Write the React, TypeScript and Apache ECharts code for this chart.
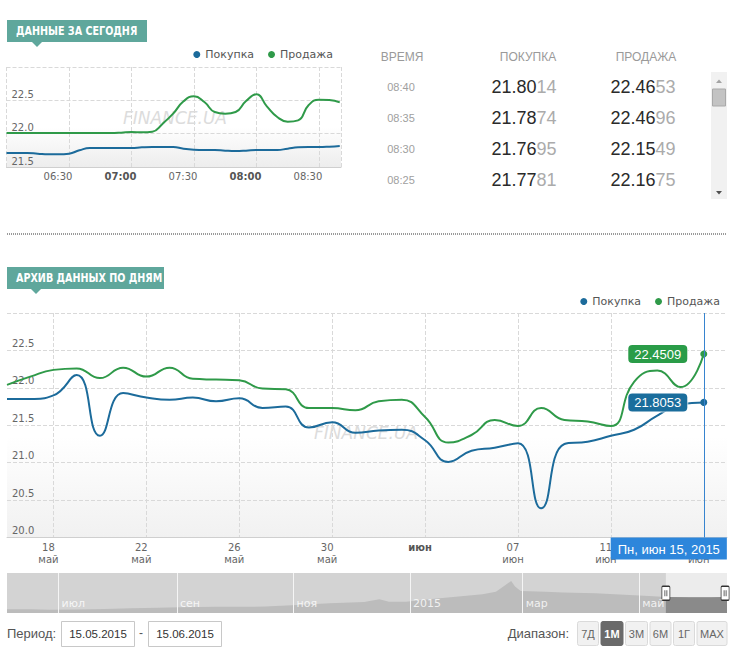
import React, { useEffect, useRef } from 'react';
import * as echarts from 'echarts';

// ---------- data: today (5-minute steps) ----------
const todayTimes = ['06:00','06:05','06:10','06:15','06:20','06:25','06:30','06:35','06:40','06:45','06:50','06:55',
  '07:00','07:05','07:10','07:15','07:20','07:25','07:30','07:35','07:40','07:45','07:50','07:55',
  '08:00','08:05','08:10','08:15','08:20','08:25','08:30','08:35','08:40'];
const todayBuy = [21.71,21.71,21.71,21.70,21.69,21.69,21.70,21.75,21.785,21.785,21.785,21.785,
  21.785,21.795,21.80,21.80,21.80,21.775,21.76,21.755,21.755,21.745,21.74,21.745,
  21.755,21.755,21.755,21.775,21.795,21.80,21.80,21.805,21.815];
const todaySell = [22.01,22.01,22.01,22.01,22.01,22.01,22.01,22.01,22.01,22.01,22.01,22.015,
  22.025,22.02,22.03,22.15,22.30,22.485,22.56,22.475,22.325,22.30,22.325,22.49,
  22.59,22.41,22.25,22.18,22.20,22.425,22.51,22.505,22.47];
const todayAxisMax = '08:40.6';

// ---------- data: table ----------
const tableHeaders = ['ВРЕМЯ', 'ПОКУПКА', 'ПРОДАЖА'];
const tableTimes = ['08:40', '08:35', '08:30', '08:25'];
const tableBuy = ['21.8014', '21.7874', '21.7695', '21.7781'];
const tableSell = ['22.4653', '22.4696', '22.1549', '22.1675'];

// ---------- data: daily archive ----------
const dailyDates = ['2015-05-16','2015-05-17','2015-05-18','2015-05-19','2015-05-20','2015-05-21','2015-05-22','2015-05-23',
  '2015-05-24','2015-05-25','2015-05-26','2015-05-27','2015-05-28','2015-05-29','2015-05-30','2015-05-31',
  '2015-06-01','2015-06-02','2015-06-03','2015-06-04','2015-06-05','2015-06-06','2015-06-07','2015-06-08',
  '2015-06-09','2015-06-10','2015-06-11','2015-06-12','2015-06-13','2015-06-14','2015-06-15','2015-06-16'];
const dailyBuy = [21.85,21.85,21.90,22.17,21.36,21.93,21.87,21.84,21.87,21.82,21.86,21.73,21.75,21.47,21.54,21.40,
  21.43,21.44,21.30,21.01,21.16,21.20,21.26,20.39,21.25,21.28,21.36,21.44,21.63,21.78,21.8053,null];
const dailySell = [22.04,22.15,22.24,22.26,22.13,22.27,22.15,22.27,22.12,22.11,22.10,21.99,21.98,21.73,21.73,21.70,
  21.82,21.84,21.61,21.27,21.37,21.57,21.49,21.73,21.57,21.55,21.49,22.08,22.23,22.01,22.4509,null];
const dailyTickLabels: Record<string, string> = {
  '2015-05-18': '18\nмай', '2015-05-22': '22\nмай', '2015-05-26': '26\nмай', '2015-05-30': '30\nмай',
  '2015-06-03': 'июн', '2015-06-07': '07\nиюн', '2015-06-11': '11\nиюн', '2015-06-15': '15\nиюн',
};
const crosshairDate = '2015-06-15';
const crosshairLabel = 'Пн, июн 15, 2015';

// ---------- data: navigator ----------
const navDates = ['2014-06-04','2014-06-17','2014-06-26','2014-07-10','2014-07-25','2014-08-08','2014-08-22','2014-09-03',
  '2014-09-21','2014-10-05','2014-10-17','2014-11-03','2014-11-20','2014-12-08','2014-12-16','2014-12-21','2014-12-30',
  '2015-01-11','2015-01-25','2015-02-08','2015-02-15','2015-02-20','2015-02-23','2015-02-25','2015-02-28','2015-03-13',
  '2015-03-22','2015-04-08','2015-04-26','2015-05-06','2015-05-15','2015-05-27','2015-06-08','2015-06-16'];
const navValues = [10.8,10.8,10.4,10.6,11.0,11.5,11.9,12.3,12.7,12.7,12.8,14.0,15.3,16.2,18.3,16.5,16.5,
  18.3,20.2,22.0,24.0,29.0,32.0,27.8,24.5,24.0,23.3,22.8,21.5,20.8,20.0,19.9,19.8,20.0];
const navMonthStarts = ['2014-07-01','2014-09-01','2014-11-01','2015-01-01','2015-03-01','2015-05-01'];
const navMonthLabels = ['июл','сен','ноя','2015','мар','май'];
const navMin = '2014-06-04';
const navMax = '2015-06-16';
const windowStart = '2015-05-15';
const windowEnd = '2015-06-15';

// ---------- data: controls ----------
const periodFrom = '15.05.2015';
const periodTo = '15.06.2015';
const rangeButtons = ['7Д', '1М', '3М', '6М', '1Г', 'MAX'];
const activeRange = '1М';
const seriesNames = ['Покупка', 'Продажа'];

const BLUE = '#1c6b9b';
const GREEN = '#2f9a49';
const AX = "'DejaVu Sans', Verdana, sans-serif";
const LS = "'Liberation Sans', Arial, sans-serif";

const ts = (s: string) => {
  const [y, m, d] = s.split('-').map(Number);
  return new Date(y, m - 1, d).getTime();
};
const toMin = (t: string) => {
  const [h, m] = t.split(':').map(Number);
  return (h - 6) * 60 + m;
};

function buildOption() {
  const lastIdx = dailyDates.indexOf(crosshairDate);
  const flag = (v: number, color: string) => ({
    value: v,
    symbolSize: 7,
    label: {
      show: true, position: 'left', distance: 13, formatter: String(v.toFixed(4)),
      backgroundColor: color, color: '#fff', borderRadius: 4, padding: [3, 6, 2, 6],
      fontSize: 13, fontFamily: LS, borderColor: 'rgba(255,255,255,0.7)', borderWidth: 1,
    },
  });
  const buyData = dailyBuy.map((v, i) => (i === lastIdx && v != null ? flag(v, '#1a6d9c') : v));
  const sellData = dailySell.map((v, i) => (i === lastIdx && v != null ? flag(v, '#2a9c48') : v));

  const grad = (start: number, end: string) =>
    new echarts.graphic.LinearGradient(0, 0, 0, 1, [
      { offset: 0, color: '#ffffff' }, { offset: start, color: '#ffffff' }, { offset: 1, color: end },
    ]);

  const splitDashed = { show: true, lineStyle: { type: 'dashed', color: '#d9d9d9', width: 1 } };

  const graphic: any[] = [];
  // badges
  const badge = (x: number, y: number, w: number, text: string, tx: number) => {
    graphic.push({ type: 'rect', shape: { x, y, width: w, height: 22 }, style: { fill: '#5fa79c' } });
    graphic.push({ type: 'polygon', shape: { points: [[tx - 5, y + 22], [tx + 5, y + 22], [tx, y + 27]] }, style: { fill: '#5fa79c' } });
    graphic.push({ type: 'text', x: x + 9, y: y + 11, scaleX: 0.8, style: { text, fill: '#fff', fontSize: 12, fontWeight: 'bold', fontFamily: AX, align: 'left', verticalAlign: 'middle', textAlign: 'left', textVerticalAlign: 'middle' } });
  };
  badge(7, 20, 140, 'ДАННЫЕ ЗА СЕГОДНЯ', 37);
  badge(7, 267, 157, 'АРХИВ ДАННЫХ ПО ДНЯМ', 36);

  // watermarks
  const wm = (x: number, y: number) => graphic.push({ type: 'text', z: 1, x, y, silent: true, style: { text: 'FINANCE.UA', fill: '#dcdcdc', fontSize: 17, fontStyle: 'italic', fontFamily: AX, align: 'center', verticalAlign: 'middle', textAlign: 'center', textVerticalAlign: 'middle' } });
  wm(175, 118);
  wm(366, 433);

  // dotted separator
  graphic.push({ type: 'line', shape: { x1: 7, y1: 234, x2: 727, y2: 234 }, style: { stroke: '#9a9a9a', lineWidth: 2, lineDash: [1, 1] } });

  // table
  const colX = [402, 528, 646];
  tableHeaders.forEach((h, i) => graphic.push({ type: 'text', x: colX[i], y: 57, style: { text: h, fill: '#9a9a9a', fontSize: 12, fontFamily: LS, align: 'center', verticalAlign: 'middle', textAlign: 'center', textVerticalAlign: 'middle' } }));
  const rowY = [87, 118, 149, 180];
  const rich = {
    a: { fill: '#2a2a2a', color: '#2a2a2a', fontSize: 18, fontFamily: LS },
    b: { fill: '#ababab', color: '#ababab', fontSize: 18, fontFamily: LS },
  };
  tableTimes.forEach((t, i) => {
    graphic.push({ type: 'text', x: 401, y: rowY[i], style: { text: t, fill: '#a0a0a0', fontSize: 11, fontFamily: LS, align: 'center', verticalAlign: 'middle', textAlign: 'center', textVerticalAlign: 'middle' } });
    [tableBuy[i], tableSell[i]].forEach((v, j) => {
      graphic.push({ type: 'text', x: j === 0 ? 524 : 643, y: rowY[i], style: { text: `{a|${v.slice(0, 5)}}{b|${v.slice(5)}}`, rich, align: 'center', verticalAlign: 'middle', textAlign: 'center', textVerticalAlign: 'middle' } });
    });
  });
  // scrollbar
  graphic.push({ type: 'rect', shape: { x: 711, y: 72, width: 16, height: 127 }, style: { fill: '#f1f1f1' } });
  graphic.push({ type: 'rect', shape: { x: 712.5, y: 89, width: 13, height: 17 }, style: { fill: '#c3c3c3', stroke: '#a9a9a9', lineWidth: 1 } });
  graphic.push({ type: 'polygon', shape: { points: [[716, 83], [722, 83], [719, 79.5]] }, style: { fill: '#a3a3a3' } });
  graphic.push({ type: 'polygon', shape: { points: [[716, 191], [722, 191], [719, 194.5]] }, style: { fill: '#505050' } });

  // controls
  graphic.push({ type: 'text', x: 7, y: 633, style: { text: 'Период:', fill: '#555', fontSize: 13, fontFamily: LS, align: 'left', verticalAlign: 'middle', textAlign: 'left', textVerticalAlign: 'middle' } });
  [[61, periodFrom], [148, periodTo]].forEach(([x, t]) => {
    graphic.push({ type: 'rect', shape: { x: (x as number) + 0.5, y: 621.5, width: 73, height: 25 }, style: { fill: '#fff', stroke: '#c8c8c8', lineWidth: 1 } });
    graphic.push({ type: 'text', x: (x as number) + 37, y: 634, style: { text: t as string, fill: '#333', fontSize: 11.5, fontFamily: LS, align: 'center', verticalAlign: 'middle', textAlign: 'center', textVerticalAlign: 'middle' } });
  });
  graphic.push({ type: 'text', x: 141, y: 633, style: { text: '-', fill: '#555', fontSize: 12, fontFamily: LS, align: 'center', verticalAlign: 'middle', textAlign: 'center', textVerticalAlign: 'middle' } });
  graphic.push({ type: 'text', x: 569, y: 633, style: { text: 'Диапазон:', fill: '#555', fontSize: 13, fontFamily: LS, align: 'right', verticalAlign: 'middle', textAlign: 'right', textVerticalAlign: 'middle' } });
  const btnW = [21, 22, 22, 21, 21, 30];
  let bx = 577;
  rangeButtons.forEach((b, i) => {
    const active = b === activeRange;
    graphic.push({ type: 'rect', shape: { x: bx + 0.5, y: 621.5, width: btnW[i], height: 24, r: 2 }, style: { fill: active ? '#6a6a6a' : '#f1f1f1', stroke: active ? '#6a6a6a' : '#dadada', lineWidth: 1 } });
    graphic.push({ type: 'text', x: bx + btnW[i] / 2 + 0.5, y: 634, style: { text: b, fill: active ? '#fff' : '#666', fontSize: 11, fontWeight: active ? 'bold' : 'normal', fontFamily: LS, align: 'center', verticalAlign: 'middle', textAlign: 'center', textVerticalAlign: 'middle' } });
    bx += btnW[i] + 2.5;
  });

  const legendBase = {
    data: seriesNames, icon: 'circle', itemWidth: 7, itemHeight: 7, itemGap: 14, selectedMode: false,
    textStyle: { fontSize: 11, color: '#555', fontFamily: AX }, padding: 0,
  };

  const handlePath = 'path://M1,0 H7 Q8,0 8,1 V13 Q8,14 7,14 H1 Q0,14 0,13 V1 Q0,0 1,0 Z M3,4 V10 M5,4 V10';

  return {
    animation: false,
    backgroundColor: '#ffffff',
    legend: [
      { ...legendBase, right: 402, top: 49 },
      { ...legendBase, right: 15, top: 296 },
    ],
    grid: [
      { left: 6.5, top: 67, width: 334.5, height: 100, show: true, borderWidth: 0, backgroundColor: grad(0.6, '#ededed') },
      { left: 7, top: 313, width: 720, height: 224.5, show: true, borderWidth: 0, backgroundColor: grad(0.55, '#f1f1f1') },
      { left: 7, top: 573, width: 720, height: 40, show: true, borderWidth: 0, backgroundColor: '#d3d3d3' },
    ],
    xAxis: [
      {
        gridIndex: 0, type: 'value', min: 0, max: toMin(todayAxisMax), interval: 30,
        axisLine: { lineStyle: { color: '#cfcfcf' } }, axisTick: { show: false }, splitLine: splitDashed,
        axisLabel: {
          showMinLabel: false, showMaxLabel: false, margin: 4, padding: [0, 22, 0, 0],
          formatter: (v: number) => {
            const h = 6 + Math.floor(v / 60);
            const m = Math.round(v % 60);
            const s = `${String(h).padStart(2, '0')}:${String(m).padStart(2, '0')}`;
            return m === 0 ? `{b|${s}}` : `{n|${s}}`;
          },
          rich: {
            n: { fontSize: 10, color: '#666', fontFamily: AX },
            b: { fontSize: 10, color: '#555', fontFamily: AX, fontWeight: 'bold' },
          },
        },
      },
      {
        gridIndex: 1, type: 'category', data: dailyDates, boundaryGap: false,
        axisLine: { lineStyle: { color: '#cfcfcf' } }, axisTick: { show: false },
        splitLine: { ...splitDashed, interval: (_i: number, v: string) => v in dailyTickLabels },
        axisLabel: {
          interval: (_i: number, v: string) => v in dailyTickLabels,
          margin: 4, padding: [0, 10, 0, 0], fontSize: 10, color: '#666', fontFamily: AX, lineHeight: 12,
          formatter: (v: string) => {
            const l = dailyTickLabels[v];
            if (!l) return '';
            return l.indexOf('\n') >= 0 ? l : `{b|${l}}`;
          },
          rich: { b: { fontSize: 10, color: '#555', fontFamily: AX, fontWeight: 'bold', lineHeight: 12 } },
        },
      },
      { gridIndex: 2, type: 'time', min: ts(navMin), max: ts(navMax), show: false },
    ],
    yAxis: [
      {
        gridIndex: 0, type: 'value', min: 21.5, max: 23, interval: 0.5,
        axisLine: { show: false }, axisTick: { show: false }, splitLine: splitDashed,
        axisLabel: { inside: true, margin: 5, verticalAlign: 'bottom', padding: [0, 0, 1, 0], showMaxLabel: false, fontSize: 10, color: '#666', fontFamily: AX, formatter: (v: number) => v.toFixed(1) },
      },
      {
        gridIndex: 1, type: 'value', min: 20, max: 23, interval: 0.5,
        axisLine: { show: false }, axisTick: { show: false }, splitLine: splitDashed,
        axisLabel: { inside: true, margin: 5, verticalAlign: 'bottom', padding: [0, 0, 2, 0], showMaxLabel: false, fontSize: 10, color: '#666', fontFamily: AX, formatter: (v: number) => v.toFixed(1) },
      },
      { gridIndex: 2, type: 'value', min: 8, max: 38, show: false },
    ],
    series: [
      {
        name: seriesNames[0], type: 'line', xAxisIndex: 0, yAxisIndex: 0, smooth: 0.5, symbol: 'none',
        lineStyle: { width: 2, color: BLUE }, itemStyle: { color: BLUE },
        data: todayTimes.map((t, i) => [toMin(t), todayBuy[i]]),
      },
      {
        name: seriesNames[1], type: 'line', xAxisIndex: 0, yAxisIndex: 0, smooth: 0.5, symbol: 'none',
        lineStyle: { width: 2, color: GREEN }, itemStyle: { color: GREEN },
        data: todayTimes.map((t, i) => [toMin(t), todaySell[i]]),
      },
      {
        name: seriesNames[0], type: 'line', xAxisIndex: 1, yAxisIndex: 1, smooth: 0.5, symbol: 'circle', symbolSize: 0,
        showAllSymbol: true, lineStyle: { width: 2, color: BLUE }, itemStyle: { color: BLUE }, data: buyData,
        markLine: {
          silent: true, symbol: ['none', 'none'], animation: false,
          lineStyle: { color: '#3784cf', width: 1, type: 'solid' },
          label: {
            show: true, position: 'start', distance: 0, offset: [-35, 0], formatter: crosshairLabel,
            backgroundColor: '#2d86db', color: '#fff', padding: [5, 7, 4, 7], fontSize: 13, fontFamily: LS,
          },
          data: [{ xAxis: crosshairDate }],
        },
      },
      {
        name: seriesNames[1], type: 'line', xAxisIndex: 1, yAxisIndex: 1, smooth: 0.5, symbol: 'circle', symbolSize: 0,
        showAllSymbol: true, lineStyle: { width: 2, color: GREEN }, itemStyle: { color: GREEN }, data: sellData,
      },
      {
        name: 'window', type: 'line', xAxisIndex: 2, yAxisIndex: 2, symbol: 'none', silent: true,
        lineStyle: { width: 0 }, areaStyle: { color: '#ececec', opacity: 1, origin: 'start' },
        data: [[ts(windowStart), 38], [ts(navMax), 38]],
      },
      {
        name: 'nav', type: 'line', xAxisIndex: 2, yAxisIndex: 2, symbol: 'none', silent: true,
        lineStyle: { width: 0 }, areaStyle: { color: '#bcbcbc', opacity: 1, origin: 'start' },
        data: navDates.map((d, i) => [ts(d), navValues[i]]),
        markLine: {
          silent: true, symbol: ['none', 'none'], label: { show: false },
          lineStyle: { color: '#f5f5f5', width: 1, type: 'solid' },
          data: navMonthStarts.map((d) => ({ xAxis: ts(d) })),
        },
      },
      {
        name: 'navWindow', type: 'line', xAxisIndex: 2, yAxisIndex: 2, symbol: 'none', silent: true,
        lineStyle: { width: 0 }, areaStyle: { color: '#8a8a8a', opacity: 1, origin: 'start' },
        data: navDates.map((d, i) => [ts(d), navValues[i]]).filter((p) => p[0] >= ts(windowStart)),
        markPoint: {
          silent: true, symbol: handlePath, symbolSize: [8, 14], label: { show: false },
          itemStyle: { color: '#ffffff', borderColor: '#333', borderWidth: 1 },
          data: [{ coord: [ts(windowStart), 22.8] }, { coord: [ts(windowEnd), 22.8] }],
        },
      },
      {
        name: 'navLabels', type: 'scatter', xAxisIndex: 2, yAxisIndex: 2, symbolSize: 0, silent: true, z: 5,
        label: { show: true, position: 'right', distance: 3, color: '#ffffff', fontSize: 11, fontFamily: AX, formatter: (p: any) => p.value[2] },
        labelLayout: { hideOverlap: false },
        data: navMonthStarts.map((d, i) => [ts(d), 15.5, navMonthLabels[i]]),
      },
    ],
    graphic,
  };
}

export default function App() {
  const ref = useRef<HTMLDivElement>(null);
  useEffect(() => {
    if (!ref.current) return;
    const chart = echarts.init(ref.current, undefined, { renderer: 'svg' });
    chart.setOption(buildOption() as any);
    return () => chart.dispose();
  }, []);
  return <div ref={ref} style={{ position: 'absolute', left: 0, top: 0, width: 735, height: 665 }} />;
}
